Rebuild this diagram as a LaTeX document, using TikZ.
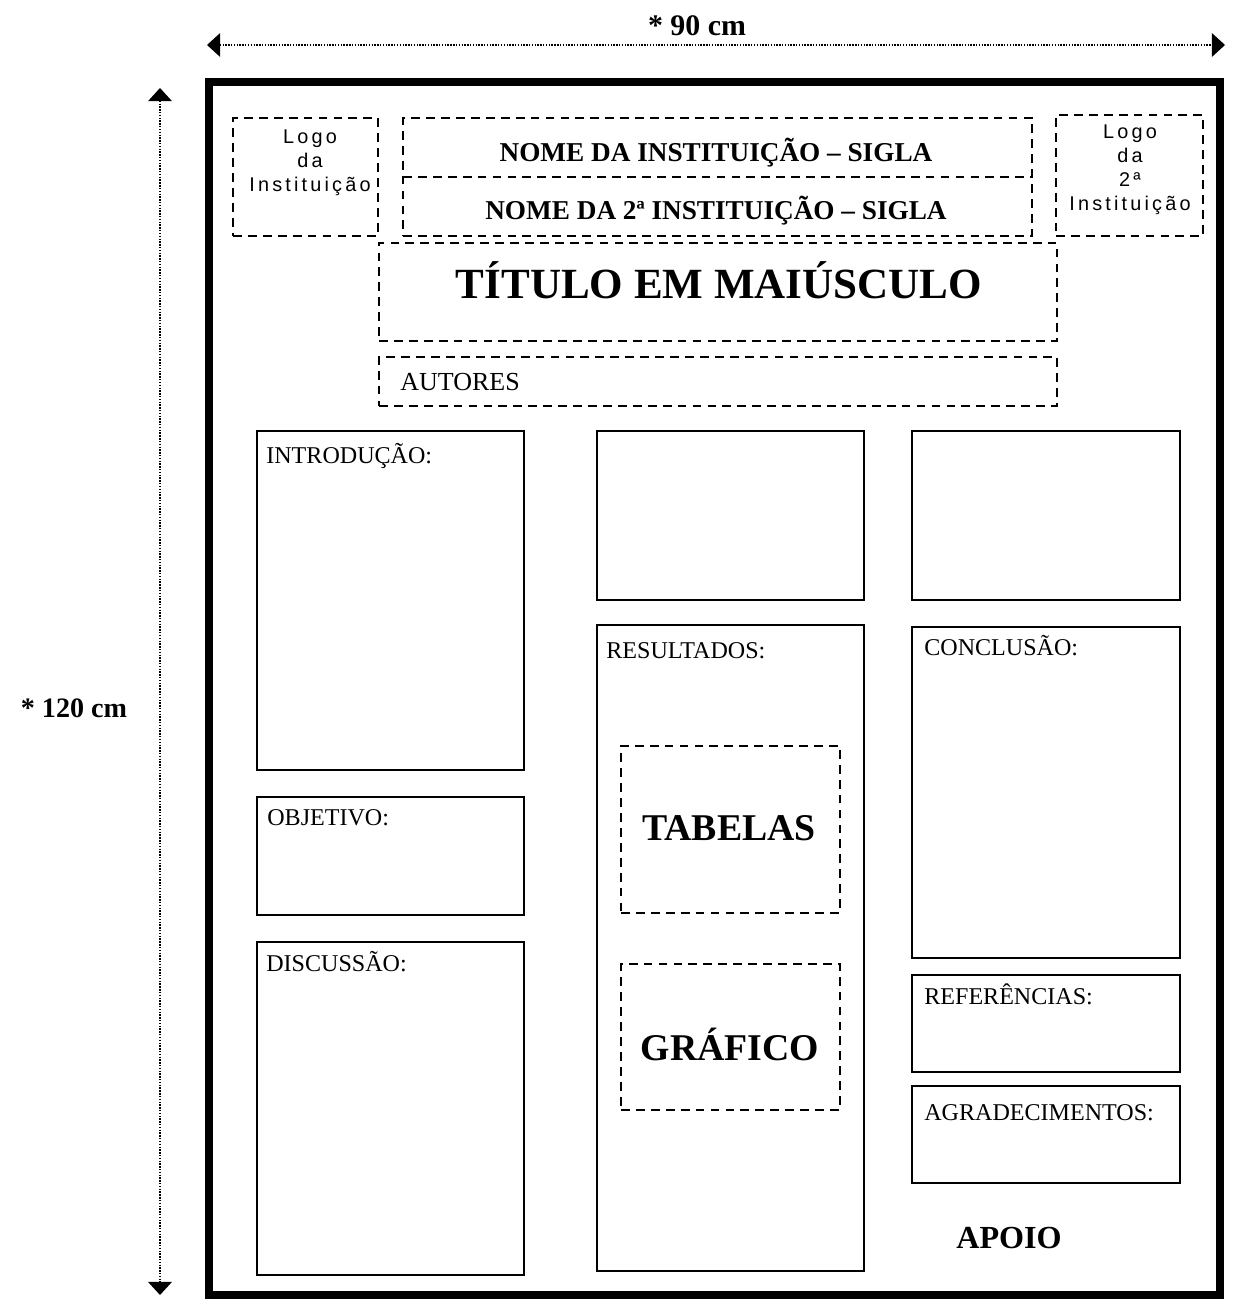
\documentclass[tikz,border=0pt]{standalone}
\usepackage{fontspec}
\setmainfont{Liberation Serif}
\newfontfamily\logofont[LetterSpace=16]{Liberation Sans}
\usetikzlibrary{fit,arrows.meta}
\begin{document}
\begin{tikzpicture}[x=0.02cm,y=-0.02cm,
  dimline/.style={line width=0.9pt, dash pattern=on 0.8pt off 0.8pt,
    {Triangle[length=7.5pt,width=13.5pt]}-{Triangle[length=7.5pt,width=13.5pt]}},
  frame/.style={draw, line width=4.5pt, inner sep=0pt},
  dbox/.style={draw, line width=1.4pt, dash pattern=on 5pt off 3.5pt, inner sep=0pt},
  sbox/.style={draw, line width=1.2pt, inner sep=0pt},
  hdr/.style={anchor=base west, inner sep=0pt, font=\fontsize{13.7}{15}\selectfont},
  big/.style={inner sep=0pt, font=\bfseries\fontsize{21.5}{24}\selectfont},
  inst/.style={inner sep=0pt, font=\bfseries\fontsize{15.5}{18}\selectfont},
  logo/.style={inner sep=0pt, align=center, font=\logofont\fontsize{11.3}{13.6}\selectfont},
  dimlbl/.style={inner sep=0pt, font=\bfseries\fontsize{17}{20}\selectfont}
]
\useasboundingbox (0,0) rectangle (1232,1304);

% dimension arrows
\coordinate (hl) at (207,45);
\coordinate (hr) at (1225,45);
\draw[dimline] (hl) -- (hr);
\node[dimlbl] (w) at (697,26) {* 90 cm};
\coordinate (vt) at (160,88);
\coordinate (vb) at (160,1295);
\draw[dimline] (vt) -- (vb);
\node[dimlbl, font=\bfseries\fontsize{16}{19}\selectfont] (h) at (74,708) {* 120 cm};

% outer frame
\node[frame, fit={(209,82) (1220,1295)}] (poster) {};

% header
\node[dbox, fit={(233,118) (378,236)}] (logo1) {};
\node[logo] (logo1t) at (310,163) {Logo\\da\\Instituição};
\node[dbox, fit={(403,118) (1032,236)}] (names) {};
\coordinate (m1) at (403,177);
\coordinate (m2) at (1032,177);
\draw[line width=1.4pt, dash pattern=on 5pt off 3.5pt] (m1) -- (m2);
\node[inst] (n1) at (716,153) {NOME DA INSTITUIÇÃO – SIGLA};
\node[inst] (n2) at (716,211) {NOME DA 2ª INSTITUIÇÃO – SIGLA};
\node[dbox, fit={(1056,115) (1203,236)}] (logo2) {};
\node[logo] (logo2t) at (1130,170) {Logo\\da\\2ª\\Instituição};

\node[dbox, fit={(379,243) (1057,341)}] (titlebox) {};
\node[inner sep=0pt, font=\bfseries\fontsize{24.5}{28}\selectfont] (title) at (719,280) {TÍTULO EM MAIÚSCULO};
\node[dbox, fit={(379,357) (1057,406)}] (autbox) {};
\node[hdr, font=\fontsize{14.8}{16}\selectfont] (aut) at (400,390) {AUTORES};

% left column
\node[sbox, fit={(257,431) (524,770)}] (intro) {};
\node[hdr] (introt) at (266,463) {INTRODUÇÃO:};
\node[sbox, fit={(257,797) (524,915)}] (obj) {};
\node[hdr] (objt) at (267,825) {OBJETIVO:};
\node[sbox, fit={(257,942) (524,1275)}] (disc) {};
\node[hdr] (disct) at (266,971) {DISCUSSÃO:};

% middle column
\node[sbox, fit={(597,431) (864,600)}] (mtop) {};
\node[sbox, fit={(597,625) (864,1271)}] (res) {};
\node[hdr] (rest) at (606,658) {RESULTADOS:};
\node[dbox, fit={(621,746) (840,913)}] (tab) {};
\node[big] (tabt) at (729,828) {TABELAS};
\node[dbox, fit={(621,964) (840,1110)}] (graf) {};
\node[big] (graft) at (730,1044) {GRÁFICO};

% right column
\node[sbox, fit={(912,431) (1180,600)}] (rtop) {};
\node[sbox, fit={(912,627) (1180,958)}] (conc) {};
\node[hdr] (conct) at (924,655) {CONCLUSÃO:};
\node[sbox, fit={(912,975) (1180,1072)}] (ref) {};
\node[hdr] (reft) at (924,1004) {REFERÊNCIAS:};
\node[sbox, fit={(912,1086) (1180,1183)}] (agr) {};
\node[hdr] (agrt) at (924,1120) {AGRADECIMENTOS:};
\node[inner sep=0pt, font=\bfseries\fontsize{18.3}{21}\selectfont] (apoio) at (1009,1238) {APOIO};
\end{tikzpicture}
\end{document}
